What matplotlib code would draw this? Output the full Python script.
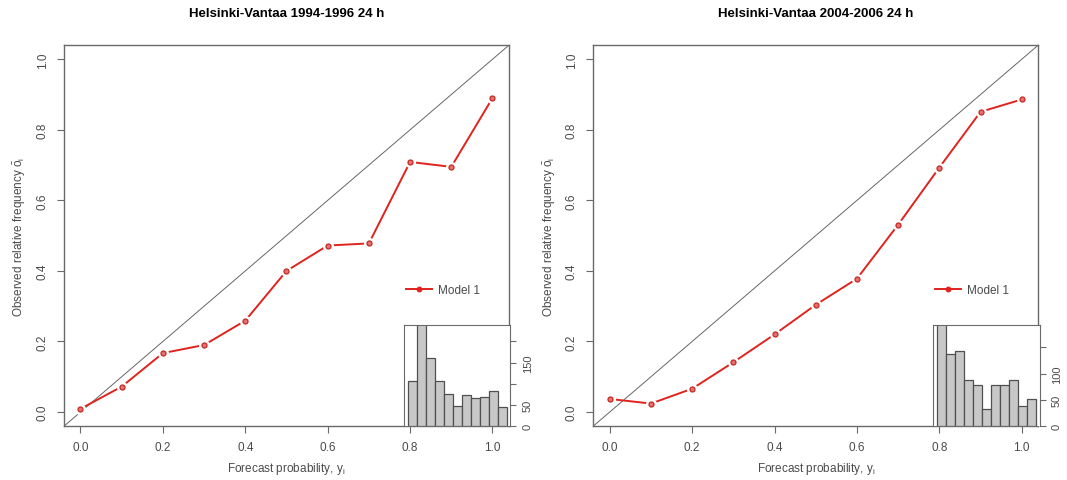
import matplotlib.pyplot as plt

plt.rcParams['font.family'] = ['Liberation Sans', 'DejaVu Sans']
plt.rcParams['mathtext.fontset'] = 'custom'
plt.rcParams['mathtext.rm'] = 'Liberation Sans'
plt.rcParams['mathtext.it'] = 'Liberation Sans'

# forecast probability bins
prob = [0.0, 0.1, 0.2, 0.3, 0.4, 0.5, 0.6, 0.7, 0.8, 0.9, 1.0]

# observed relative frequency
obs_9496 = [0.009, 0.072, 0.167, 0.190, 0.259, 0.400, 0.472, 0.478, 0.709, 0.695, 0.890]
obs_0406 = [0.037, 0.024, 0.066, 0.141, 0.220, 0.304, 0.378, 0.531, 0.693, 0.851, 0.886]

# forecast counts per bin (inset histograms)
cnt_9496 = [107, 260, 161, 106, 76, 48, 73, 67, 68, 82, 44]
cnt_0406 = [220, 138, 142, 87, 78, 32, 78, 79, 88, 39, 52]

titles = ["Helsinki-Vantaa 1994-1996 24 h", "Helsinki-Vantaa 2004-2006 24 h"]

red = "#e0231c"
frame = "#6a6a6a"
txt = "#4a4a4a"

fig = plt.figure(figsize=(10.67, 4.81), dpi=100)
ax1 = fig.add_axes([0.060, 0.112, 0.417, 0.792])
ax2 = fig.add_axes([0.556, 0.112, 0.417, 0.792])

panels = [
    (ax1, obs_9496, cnt_9496, titles[0], 238, [0, 50, 100, 150, 200], ["0", "50", "", "150", ""]),
    (ax2, obs_0406, cnt_0406, titles[1], 192, [0, 50, 100, 150], ["0", "50", "100", ""]),
]

for ax, obs, cnt, title, htop, hticks, hlabels in panels:
    ax.set_xlim(-0.04, 1.04)
    ax.set_ylim(-0.04, 1.04)
    ax.axline((0, 0), slope=1, color="#666666", lw=0.7, zorder=1)

    ax.plot(prob, obs, color=red, lw=1.4, zorder=2)
    # white halo gives the gap around each point
    ax.plot(prob, obs, ls="none", marker="o", ms=7, mfc="white", mec="white", zorder=3)
    ax.plot(prob, obs, ls="none", marker="o", ms=3.6, mfc="#e87070", mec="#c42a22",
            mew=0.9, zorder=4)

    handle, = ax.plot([], [], color=red, lw=1.4, marker="o", ms=3.2, mfc=red, mec=red)
    ax.legend([handle], ["Model 1"], loc="upper left", bbox_to_anchor=(0.745, 0.40),
              frameon=False, fontsize=8.5, handlelength=2.2, handletextpad=0.5,
              labelcolor=txt)

    ax.set_xticks([0, 0.2, 0.4, 0.6, 0.8, 1.0])
    ax.set_xticklabels(["0.0", "0.2", "0.4", "0.6", "0.8", "1.0"])
    ax.set_yticks([0, 0.2, 0.4, 0.6, 0.8, 1.0])
    ax.set_yticklabels(["0.0", "0.2", "0.4", "0.6", "0.8", "1.0"], rotation=90, va="center")
    ax.tick_params(direction="out", length=5, color=frame, labelcolor=txt,
                   labelsize=8.5, pad=6)
    for s in ax.spines.values():
        s.set_color(frame)
        s.set_linewidth(1.0)

    ax.set_title(title, fontsize=9.5, fontweight="bold", pad=21)
    ax.set_xlabel(r"Forecast probability, $\mathregular{y_i}$", fontsize=8.5, color=txt, labelpad=5)
    ax.set_ylabel(r"Observed relative frequency $\mathregular{\bar{o}_i}$", fontsize=8.5,
                  color=txt, labelpad=6)

    ins = ax.inset_axes([0.763, 0.0, 0.24, 0.265])
    ins.bar(range(len(cnt)), cnt, width=1.0, color="#c8c8c8", edgecolor="#505050", lw=0.9)
    ins.set_xlim(-0.95, 10.85)
    ins.set_ylim(0, htop)
    ins.set_xticks([])
    ins.yaxis.tick_right()
    ins.set_yticks(hticks)
    ins.set_yticklabels(hlabels, rotation=90, va="center")
    ins.tick_params(axis="y", direction="out", length=4, color=frame, labelcolor=txt,
                    labelsize=8, pad=5)
    for s in ins.spines.values():
        s.set_color(frame)
    ins.spines["bottom"].set_visible(False)

fig.savefig("out.png", dpi=100)
